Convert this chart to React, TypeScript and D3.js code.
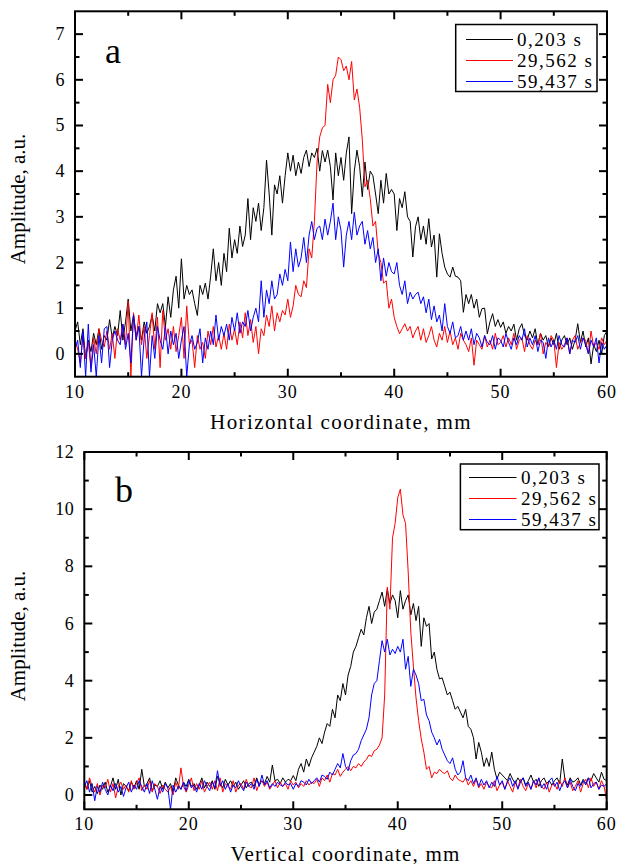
import React from 'react';
import * as d3 from 'd3';

// x sampling grid (mm), 0.25 mm step from 10 to 60
const X_GRID: number[] = d3.range(0, 201).map((i) => 10 + i * 0.25);

const SERIES_NAMES = ['0,203 s', '29,562 s', '59,437 s'];
const SERIES_COLORS = ['#000000', '#ff0000', '#0000ff'];

// Panel a: horizontal profile
const aBlack = [
  0.5, 0.7, 0.2, 0.55, -0.1, 0.3, 0.05, 0.45, 0.2, 0.55, 0.1, 0.4, 0.3, 0.75, 0.35, 0.6,
  0.4, 0.95, 0.3, 0.7, 1.2, 0.5, 0.85, 0.4, 0.6, 0.3, 0.7, 0.45, 0.6, 0.85, 0.5, 1.1,
  0.9, 1.1, 0.6, 1.25, 0.8, 1.4, 1.7, 1.0, 2.08, 1.2, 1.5, 1.3, 1.4, 1.1, 0.84, 1.5,
  1.3, 1.55, 1.2, 1.7, 2.3, 1.6, 2.0, 1.5, 2.2, 1.8, 2.75, 2.1, 2.5, 2.2, 2.8, 2.35,
  2.6, 3.4, 2.5, 3.2, 2.9, 3.3, 2.7, 3.2, 4.24, 3.5, 2.6, 3.7, 3.5, 3.9, 3.3, 3.9,
  4.4, 4.0, 4.35, 3.9, 4.2, 3.95, 4.3, 4.46, 4.1, 4.4, 4.3, 4.5, 4.0, 4.45, 4.2, 4.46,
  4.1, 3.37, 4.4, 3.9, 4.3, 3.8, 4.4, 4.75, 3.07, 4.0, 4.46, 4.1, 3.44, 4.2, 3.6, 4.0,
  3.9, 3.5, 3.07, 3.8, 3.3, 3.95, 3.5, 3.6, 3.5, 2.7, 3.4, 3.2, 3.55, 3.0, 2.9, 2.12,
  2.78, 3.0, 2.5, 2.8, 2.4, 2.96, 2.34, 2.6, 1.68, 2.63, 2.2, 1.9, 1.75, 1.68, 1.9, 1.7,
  1.68, 1.6, 0.91, 1.3, 1.1, 1.3, 1.0, 1.2, 0.8, 0.99, 1.0, 0.44, 0.7, 0.88, 0.6, 0.75,
  0.58, 0.7, 0.45, 0.6, 0.5, 0.65, 0.3, 0.55, 0.66, 0.4, 0.3, 0.5, 0.35, 0.55, 0.2, 0.45,
  0.3, 0.4, 0.15, 0.35, 0.2, 0.45, 0.1, 0.3, 0.4, 0.2, 0.35, 0.1, 0.3, 0.66, 0.25, 0.5,
  0.15, 0.35, -0.22, 0.2, 0.05, 0.3, 0.0, 0.4, 0.5,
];
const aRed = [
  0.3, 0.1, -0.2, 0.4, -0.1, 0.25, -0.3, 0.35, 0.0, 0.55, 0.3, 0.15, 0.5, 0.1, 0.45, -0.1,
  0.55, 0.3, 0.65, 0.2, 1.15, -0.5, 0.9, 0.3, 0.85, 0.2, 0.6, -0.1, 0.4, 0.9, 0.1, 0.8,
  -0.3, 0.95, 0.3, 0.55, 0.1, 0.6, 0.05, 0.4, 0.8, -0.1, 1.05, 0.2, 0.3, -0.3, 0.4, 0.1,
  0.25, -0.1, 0.5, 0.2, 0.6, 0.15, 0.4, 0.1, 0.45, 0.1, 0.65, 0.3, 0.55, 0.2, 0.7, 0.35,
  0.9, 0.4, 0.75, 0.25, 0.6, 0.0, 0.55, 0.4, 0.85, 0.6, 1.05, 0.5, 0.9, 0.7, 0.95, 0.85,
  1.2, 0.8, 1.05, 1.5, 1.3, 1.25, 1.6, 1.45, 2.3, 2.1, 2.9, 4.2, 4.75, 4.95, 5.0, 5.9,
  5.5, 6.0, 6.1, 6.5, 6.44, 6.2, 6.3, 6.0, 6.4, 5.56, 5.8, 5.4, 4.7, 3.66, 3.8, 3.4,
  2.8, 2.9, 2.2, 2.0, 1.55, 1.6, 1.0, 1.2, 0.8, 0.6, 0.44, 0.55, 0.66, 0.5, 0.6, 0.35,
  0.5, 0.6, 0.3, 0.55, 0.25, 0.4, 0.6, 0.3, 0.15, 0.45, 0.3, 0.6, 0.25, 0.5, 0.2, 0.35,
  0.1, 0.45, 0.3, 0.2, 0.05, 0.35, -0.25, 0.3, 0.2, 0.1, 0.4, 0.15, 0.3, 0.1, 0.45, 0.2,
  0.25, 0.4, 0.15, 0.35, 0.2, 0.45, 0.1, 0.3, 0.35, 0.05, 0.4, 0.2, 0.1, 0.3, 0.2, 0.45,
  0.0, 0.25, 0.15, 0.4, 0.3, -0.3, 0.25, 0.1, 0.2, 0.35, 0.0, 0.3, 0.4, 0.1, 0.25, 0.35,
  0.3, 0.0, 0.5, 0.15, 0.25, 0.1, 0.35, 0.2, 0.3,
];
const aBlue = [
  0.1, 0.3, -0.3, 0.5, -0.5, 0.65, -0.4, 0.2, -0.5, 0.4, -0.2, 0.55, 0.6, -0.3, 0.3, 0.5,
  0.3, 0.2, 0.65, 0.1, 0.45, -0.2, 0.85, 0.3, 0.6, -0.5, 0.35, 0.7, -0.5, 0.4, -0.1, 0.6,
  0.3, 0.1, 0.6, 0.0, 0.5, 0.2, 0.45, -0.1, 0.3, 0.6, -0.5, 0.2, 0.4, 0.1, 0.25, 0.55,
  -0.2, 0.35, 0.1, 0.5, 0.2, 0.85, 0.3, 0.6, 0.4, 0.65, 0.3, 0.8, 0.5, 0.9, 0.45, 0.7,
  0.6, 0.95, 0.5, 0.8, 1.0, 0.7, 1.6, 0.8, 1.4, 1.1, 1.6, 1.2, 1.3, 1.75, 1.5, 1.85,
  1.6, 2.45, 1.8, 2.3, 1.9, 2.1, 2.55, 2.0, 2.6, 2.9, 2.5, 2.75, 2.8, 2.5, 2.95, 2.6,
  2.9, 3.3, 2.5, 3.0, 2.7, 1.9, 2.6, 2.9, 2.5, 3.1, 2.6, 2.8, 2.9, 2.4, 2.7, 2.3,
  2.55, 2.0, 2.3, 1.6, 2.1, 1.7, 2.0, 1.8, 1.75, 2.0, 1.5, 1.3, 1.6, 1.1, 1.35, 1.2,
  1.3, 1.35, 1.1, 1.25, 0.9, 1.2, 0.75, 1.05, 0.7, 0.85, 0.5, 1.1, 0.6, 0.45, 0.7, 0.35,
  0.4, 0.6, 0.3, 0.5, 0.3, 0.55, 0.2, 0.45, 0.35, 0.15, 0.4, 0.25, 0.2, 0.4, 0.1, 0.35,
  0.3, 0.15, 0.45, 0.25, 0.1, 0.35, 0.2, 0.4, 0.3, 0.55, 0.15, 0.35, 0.2, 0.4, 0.05, 0.3,
  0.25, -0.1, 0.35, 0.15, 0.3, 0.1, 0.4, 0.2, 0.15, 0.35, 0.0, 0.3, 0.25, 0.4, 0.1, 0.35,
  0.2, 0.0, 0.3, 0.15, 0.35, -0.2, 0.25, 0.1, 0.2,
];

// Panel b: vertical profile
const bBlack = [
  0.4, 0.2, 0.5, 0.1, 0.3, 0.05, 0.35, 0.2, 0.45, 0.1, 0.3, 0.6, 0.2, 0.55, 0.0, 0.4,
  0.3, 0.15, 0.45, 0.25, 0.5, 0.2, 0.9, 0.3, 0.4, 0.6, 0.15, 0.35, 0.3, 0.5, 0.2, 0.45,
  0.25, 0.4, 0.1, 0.6, 0.35, 0.2, 0.45, 0.3, 0.55, 0.3, 0.4, 0.2, 0.35, 0.6, 0.25, 0.45,
  0.3, 0.5, 0.2, 0.65, 0.4, 0.25, 0.55, 0.35, 0.5, 0.3, 0.45, 0.2, 0.35, 0.5, 0.25, 0.4,
  0.45, 0.3, 0.6, 0.35, 0.5, 0.4, 0.65, 0.45, 1.05, 0.5, 0.55, 0.4, 0.6, 0.45, 0.55, 0.5,
  0.68, 0.5, 0.9, 1.1, 0.8, 1.26, 1.0, 1.3, 1.5, 1.7, 2.0, 1.8, 2.2, 2.5, 2.4, 3.0,
  2.7, 3.5, 3.3, 3.9, 3.5, 4.2, 4.5, 5.0, 5.2, 5.5, 5.8, 5.6, 6.2, 6.6, 6.0, 6.4,
  6.5, 6.8, 7.1, 6.6, 7.2, 6.7, 7.0, 6.8, 6.2, 7.15, 6.5, 6.8, 7.0, 6.3, 6.7, 6.1,
  6.6, 5.2, 6.2, 5.9, 6.0, 4.76, 5.0, 4.4, 4.06, 4.1, 3.8, 3.5, 3.6, 3.3, 3.0, 3.1,
  2.9, 2.7, 3.0, 2.4, 2.3, 2.0, 1.26, 1.84, 1.5, 1.0, 1.3, 1.0, 1.5, 0.9, 0.56, 0.8,
  0.7, 0.6, 0.5, 0.75, 0.55, 0.4, 0.6, 0.45, 0.6, 0.35, 0.5, 0.7, 0.45, 0.55, 0.3, 0.5,
  0.6, 0.4, 0.5, 0.35, 0.5, 0.6, 0.4, 1.26, 0.55, 0.35, 0.6, 0.45, 0.5, 0.6, 0.35, 0.55,
  0.4, 0.6, 0.5, 0.75, 0.6, 0.45, 0.8, 0.55, 0.5,
];
const bRed = [
  0.5, 0.2, 0.6, 0.3, 0.1, 0.4, 0.0, 0.35, 0.25, 0.55, 0.1, 0.4, -0.1, 0.3, 0.45, 0.2,
  0.35, 0.1, 0.5, 0.2, 0.4, 0.6, 0.15, 0.35, 0.2, 0.5, 0.1, 0.4, 0.3, 0.05, 0.35, 0.2,
  0.1, 0.3, 0.0, 0.45, 0.2, 0.95, 0.3, 0.1, 0.35, 0.6, 0.15, 0.4, 0.2, 0.5, 0.1, 0.3,
  0.45, 0.2, 0.5, 0.15, 0.6, 0.1, 0.4, 0.3, 0.2, 0.5, 0.1, 0.35, 0.4, 0.2, 0.55, 0.3,
  0.25, 0.6, 0.15, 0.4, 0.5, 0.3, 0.45, 0.2, 0.35, 0.5, 0.25, 0.45, 0.3, 0.4, 0.2, 0.5,
  0.35, 0.45, 0.25, 0.4, 0.3, 0.5, 0.35, 0.45, 0.4, 0.55, 0.3, 0.6, 0.5, 0.7, 0.45, 0.75,
  0.7, 0.9, 0.65, 0.8, 0.9, 1.0, 0.85, 1.0, 0.95, 1.1, 1.0, 1.15, 1.25, 1.4, 1.35, 1.55,
  1.6, 1.75, 2.0, 3.5, 7.27, 6.5, 9.0, 9.5, 10.4, 10.7, 9.8, 9.5, 7.8, 5.7, 4.5, 3.4,
  2.6, 1.96, 1.5, 0.9, 1.0, 0.6, 0.8, 0.75, 0.9, 0.8, 0.75, 0.85, 0.6, 0.5, 0.7, 0.55,
  0.5, 0.45, 0.6, 0.35, 0.5, 0.3, 0.55, 0.25, 0.4, 0.2, 0.45, 0.3, 0.25, 0.5, 0.15, 0.35,
  0.45, 0.2, 0.5, 0.3, 0.1, 0.45, 0.25, 0.55, 0.3, 0.15, 0.4, 0.2, 0.5, 0.25, 0.6, 0.3,
  0.2, 0.45, 0.1, 0.35, 0.4, 0.2, 0.5, 0.3, 0.6, 0.25, 0.45, 0.15, 0.3, 0.5, 0.1, 0.4,
  0.55, 0.25, 0.6, 0.3, 0.45, 0.2, 0.5, 0.3, -0.2,
];
const bBlue = [
  0.3, 0.5, 0.1, 0.4, -0.2, 0.3, 0.1, 0.45, 0.2, 0.0, 0.35, 0.15, 0.4, 0.1, 0.3, -0.05,
  0.25, 0.45, 0.1, 0.35, 0.2, 0.5, 0.3, 0.1, 0.4, 0.05, 0.5, 0.2, -0.15, 0.3, 0.1, 0.4,
  0.25, -0.5, 0.35, 0.1, 0.3, 0.2, 0.45, 0.15, 0.5, 0.25, 0.35, 0.1, 0.4, 0.2, 0.5, 0.3,
  0.15, 0.45, 0.25, 0.85, 0.3, 0.5, 0.2, 0.4, 0.1, 0.35, 0.25, 0.5, 0.3, 0.15, 0.45, 0.3,
  0.4, 0.2, 0.55, 0.3, 0.7, 0.35, 0.5, 0.25, 0.4, 0.3, 0.45, 0.35, 0.3, 0.45, 0.35, 0.4,
  0.2, 0.4, 0.3, 0.5, 0.45, 0.35, 0.55, 0.4, 0.5, 0.6, 0.45, 0.7, 0.65, 0.55, 0.8, 0.7,
  0.9, 1.1, 0.95, 1.45, 1.0, 0.85, 1.2, 1.4, 1.45, 1.6, 1.9, 2.1, 2.3, 2.7, 3.5, 3.9,
  4.0, 4.7, 5.4, 5.0, 5.45, 4.9, 5.1, 4.95, 5.2, 5.0, 5.45, 4.4, 4.85, 3.8, 4.4, 4.2,
  3.9, 3.3, 3.35, 2.8, 2.6, 2.2, 2.0, 1.75, 1.95, 1.6, 1.4, 1.2, 1.1, 1.3, 0.9, 0.7,
  0.8, 1.2, 0.6, 0.5, 0.7, 0.4, 0.6, 0.3, 0.55, 0.35, 0.5, 0.25, 0.45, 0.3, 0.65, 0.35,
  0.5, 0.2, 0.45, 0.6, 0.3, 0.5, 0.2, 0.45, 0.6, 0.3, 0.45, 0.2, 0.5, 0.35, 0.6, 0.25,
  0.4, 0.2, 0.5, 0.6, 0.3, 0.45, 0.15, 0.4, 0.5, 0.25, 0.55, 0.3, 0.15, 0.4, 0.3, 0.5,
  0.35, 0.6, 0.25, 0.4, 0.45, 0.2, 0.35, 0.3, 0.4,
];

const X_MAJOR = [10, 20, 30, 40, 50, 60];
const X_MINOR = [15, 25, 35, 45, 55];
const A_Y_MAJOR = [0, 1, 2, 3, 4, 5, 6, 7];
const A_Y_MINOR = [0.5, 1.5, 2.5, 3.5, 4.5, 5.5, 6.5];
const B_Y_MAJOR = [0, 2, 4, 6, 8, 10, 12];
const B_Y_MINOR = [1, 3, 5, 7, 9, 11];

const FONT = "'Liberation Serif', 'Times New Roman', Times, serif";

type PanelProps = {
  id: string;
  left: number; right: number; top: number; bottom: number;
  yDomain: [number, number];
  yMajor: number[]; yMinor: number[];
  data: number[][];
  letter: string; letterX: number; letterY: number;
  legend: { x0: number; x1: number; y0: number; y1: number; lineX0: number; lineX1: number; textX: number; rows: number[] };
  xTitle: string; xTitleY: number; xTitleSpacing: number;
  yTitleX: number; yTitleY: number;
};

function Panel(p: PanelProps) {
  const x = d3.scaleLinear().domain([10, 60]).range([p.left, p.right]);
  const y = d3.scaleLinear().domain(p.yDomain).range([p.bottom, p.top]);
  const line = d3.line<number>().x((_, i) => x(X_GRID[i])).y((v) => y(v));
  const MAJ = 8, MIN = 4.5;
  return (
    <g>
      <defs>
        <clipPath id={p.id}>
          <rect x={p.left} y={p.top} width={p.right - p.left} height={p.bottom - p.top} />
        </clipPath>
      </defs>
      <g clipPath={`url(#${p.id})`}>
        {p.data.map((s, k) => (
          <path key={k} d={line(s) || ''} fill="none" stroke={SERIES_COLORS[k]} strokeWidth={1} strokeLinejoin="round" />
        ))}
      </g>
      <g stroke="#000" strokeWidth={2}>
        {X_MAJOR.map((v) => (
          <g key={'xm' + v}>
            <line x1={x(v)} x2={x(v)} y1={p.bottom} y2={p.bottom - MAJ} />
            <line x1={x(v)} x2={x(v)} y1={p.top} y2={p.top + MAJ} />
          </g>
        ))}
        {X_MINOR.map((v) => (
          <g key={'xn' + v}>
            <line x1={x(v)} x2={x(v)} y1={p.bottom} y2={p.bottom - MIN} />
            <line x1={x(v)} x2={x(v)} y1={p.top} y2={p.top + MIN} />
          </g>
        ))}
        {p.yMajor.map((v) => (
          <g key={'ym' + v}>
            <line x1={p.left} x2={p.left + MAJ} y1={y(v)} y2={y(v)} />
            <line x1={p.right} x2={p.right - MAJ} y1={y(v)} y2={y(v)} />
          </g>
        ))}
        {p.yMinor.map((v) => (
          <g key={'yn' + v}>
            <line x1={p.left} x2={p.left + MIN} y1={y(v)} y2={y(v)} />
            <line x1={p.right} x2={p.right - MIN} y1={y(v)} y2={y(v)} />
          </g>
        ))}
      </g>
      <rect x={p.left} y={p.top} width={p.right - p.left} height={p.bottom - p.top} fill="none" stroke="#000" strokeWidth={2} />
      <g fontFamily={FONT} fontSize={18} fill="#000">
        {X_MAJOR.map((v) => (
          <text key={'xl' + v} x={x(v)} y={p.bottom + 21} textAnchor="middle" letterSpacing={1}>{v}</text>
        ))}
        {p.yMajor.map((v) => (
          <text key={'yl' + v} x={p.left - 10} y={y(v) + 6} textAnchor="end" letterSpacing={0.5}>{v}</text>
        ))}
      </g>
      <text x={(p.left + p.right) / 2} y={p.xTitleY} textAnchor="middle" fontFamily={FONT} fontSize={21} letterSpacing={p.xTitleSpacing}>{p.xTitle}</text>
      <text transform={`translate(${p.yTitleX},${p.yTitleY}) rotate(-90)`} textAnchor="middle" fontFamily={FONT} fontSize={21}>Amplitude, a.u.</text>
      <text x={p.letterX} y={p.letterY} fontFamily={FONT} fontSize={36}>{p.letter}</text>
      <rect x={p.legend.x0} y={p.legend.y0} width={p.legend.x1 - p.legend.x0} height={p.legend.y1 - p.legend.y0} fill="#fff" stroke="#000" strokeWidth={1.5} />
      {SERIES_NAMES.map((name, k) => (
        <g key={name}>
          <line x1={p.legend.lineX0} x2={p.legend.lineX1} y1={p.legend.rows[k]} y2={p.legend.rows[k]} stroke={SERIES_COLORS[k]} strokeWidth={1} />
          <text x={p.legend.textX} y={p.legend.rows[k] + 6.5} fontFamily={FONT} fontSize={19} letterSpacing={1.5}>{name}</text>
        </g>
      ))}
    </g>
  );
}

export default function App() {
  return (
    <svg width={618} height={864} style={{ position: 'absolute', left: 0, top: 0, background: '#fff' }}>
      <Panel
        id="clipA"
        left={75} right={607} top={11.3} bottom={376.7}
        yDomain={[-0.5, 7.5]}
        yMajor={A_Y_MAJOR} yMinor={A_Y_MINOR}
        data={[aBlack, aRed, aBlue]}
        letter="a" letterX={105} letterY={63}
        legend={{ x0: 455.7, x1: 597, y0: 24.5, y1: 91.5, lineX0: 466, lineX1: 513, textX: 517, rows: [39.5, 60.5, 81.5] }}
        xTitle="Horizontal coordinate, mm" xTitleY={429} xTitleSpacing={1.4}
        yTitleX={25} yTitleY={199}
      />
      <Panel
        id="clipB"
        left={84.3} right={606.7} top={452} bottom={809.3}
        yDomain={[-0.5, 12]}
        yMajor={B_Y_MAJOR} yMinor={B_Y_MINOR}
        data={[bBlack, bRed, bBlue]}
        letter="b" letterX={115} letterY={502}
        legend={{ x0: 460.4, x1: 599, y0: 464, y1: 529.7, lineX0: 469, lineX1: 516.5, textX: 521, rows: [477.5, 498.5, 519.5] }}
        xTitle="Vertical coordinate, mm" xTitleY={861} xTitleSpacing={1.2}
        yTitleX={25} yTitleY={636}
      />
    </svg>
  );
}
